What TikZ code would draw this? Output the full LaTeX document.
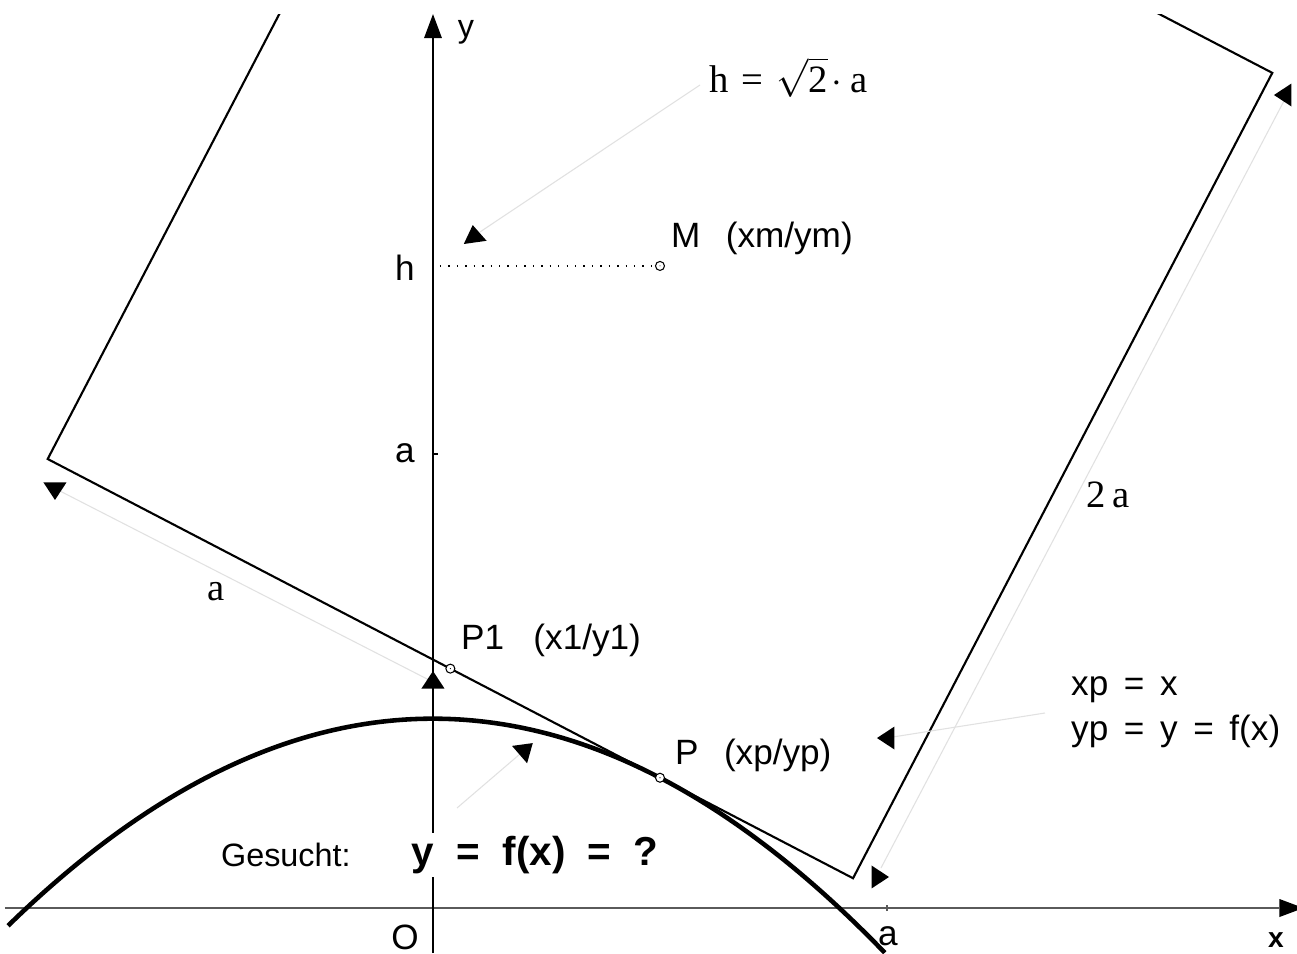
\documentclass[tikz,border=0pt]{standalone}
\usepackage{fontspec}
\setmainfont{Liberation Sans}
\newfontfamily\serifa{Liberation Serif}
\usetikzlibrary{calc}
\definecolor{leader}{RGB}{225,225,225}
\definecolor{axisline}{RGB}{90,90,90}

\begin{document}
\begin{tikzpicture}[x=4.54cm, y=4.54cm,
  every node/.style={font=\fontsize{9.2}{12.8}\selectfont, inner sep=1pt},
  sq/.style={line width=0.6pt, line join=miter},
  curve/.style={line width=1.3pt},
  ax/.style={draw=axisline, line width=0.45pt},
  lead/.style={draw=leader, line width=0.3pt},
  pt/.style={circle, draw, fill=white, line width=0.3pt, minimum size=0.9mm, inner sep=0pt},
  lbl/.style={anchor=west, font=\fontsize{10}{12.8}\selectfont},
  ser/.style={font=\serifa\fontsize{11}{13}\selectfont},
  pics/axtip/.style={code={\fill (-0.9mm,0) -- (0.9mm,0) -- (0,2.4mm) -- cycle;}},
  pics/dimtip/.style={code={\fill (-1.15mm,-0.85mm) -- (1.15mm,-0.85mm) -- (0,0.9mm) -- cycle;}}
]
\useasboundingbox[fill=white] (-0.9537,-0.0991) rectangle (1.9031,2.0);

\coordinate (M) at (0.5,{sqrt(2)});
\begin{scope}[shift={(M)}, rotate=-27.5]
  \coordinate (A) at (-1,-1);
  \coordinate (B) at (1,-1);
  \coordinate (C) at (1,1);
  \coordinate (D) at (-1,1);
  \coordinate (P1) at (0,-1);
\end{scope}
\coordinate (P) at (0.5,0.2869);

% axes
\coordinate (xstart) at (-0.943,0);
\coordinate (xend) at (1.8645,0);
\coordinate (ystart) at (0,-0.0991);
\coordinate (yend) at (0,1.916);
\draw[ax] (xstart) -- (xend);
\draw (ystart) -- (yend);
\path (xend) pic[rotate=-90] {axtip};
\path (yend) pic {axtip};
\draw[ax] (1,-0.007) -- (1,0.007);
\draw (0,1) -- (0.012,1);

% square
\begin{scope}
  \clip (-1,-0.2) rectangle (2,1.967);
  \draw[sq] (D) -- (A) -- (B) -- (C) -- cycle;
\end{scope}

% curve
\draw[curve] plot[domain=-0.936:0.9957, samples=80, smooth] (\x,{0.417-0.5206*\x*\x});

% dimensions
\coordinate (dimA1) at (-0.826,0.9207);
\coordinate (dimA2) at (0,0.4978);
\draw[lead] (dimA1) -- (dimA2);
\path (-0.8326,0.9185) pic[rotate=180] {dimtip};
\path (0,0.5022) pic {dimtip};
\coordinate (dimB1) at (1.8744,1.7775);
\coordinate (dimB2) at (0.9868,0.0881);
\draw[lead] (dimB1) -- (dimB2);
\path (1.8722,1.7907) pic[rotate=90] {dimtip};
\path (0.9846,0.0683) pic[rotate=-90] {dimtip};

% leaders
\coordinate (hfrom) at (0.5881,1.8128);
\coordinate (hto) at (0.1035,1.4890);
\draw[lead] (hfrom) -- (hto);
\path (0.0903,1.4846) pic[rotate=8] {dimtip};
\coordinate (xpfrom) at (1.348,0.4295);
\coordinate (xpto) at (1.0132,0.3767);
\draw[lead] (xpfrom) -- (xpto);
\path (0.9978,0.3744) pic[rotate=90] {dimtip};
\coordinate (cfrom) at (0.0529,0.2203);
\coordinate (cto) at (0.1916,0.3392);
\draw[lead] (cfrom) -- (cto);
\path (0.2048,0.3502) pic[rotate=-49] {dimtip};

% points
\draw[dotted, line width=0.4pt] (0.0154,{sqrt(2)}) -- (M);
\node[pt] (m) at (M) {};
\node[pt] (p1) at (P1) {};
\node[pt] (p) at (P) {};
\foreach \q in {M,P1,P} \fill (\q) circle (0.15pt);

% labels
\node (ylab) at (0.0727,1.9295) {y};
\node[font=\bfseries\fontsize{8}{10}\selectfont] (xlab) at (1.8568,-0.0705) {x};
\node[font=\fontsize{10}{12}\selectfont] (olab) at (-0.0617,-0.0650) {O};
\node[font=\fontsize{10}{12}\selectfont] (alab) at (1.0022,-0.0620) {a};
\node[font=\fontsize{10}{12}\selectfont] (hlab) at (-0.0617,1.4097) {h};
\node[font=\fontsize{10}{12}\selectfont] (aylab) at (-0.0617,1.0022) {a};
\node[lbl] (mlab) at (0.5154,1.4758) {M\ \ \,(xm/ym)};
\node[lbl] (p1lab) at (0.0529,0.5903) {P1\ \ \ (x1/y1)};
\node[lbl] (plab) at (0.5242,0.3370) {P\ \ \,(xp/yp)};
\node[lbl, align=left] (xplab) at (1.3965,0.4306) {xp\ \,=\ \,x\\yp\ \,=\ \,y\ \,=\ \,f(x)};
\node[lbl, font=\fontsize{9.2}{12}\selectfont] (gesucht) at (-0.4758,0.1167) {Gesucht:};
\node[lbl, fill=white, font=\bfseries\fontsize{11.5}{13}\selectfont] (fx) at (-0.0563,0.1167) {y\ \ =\ \ f(x)\ \ =\ \ ?};
\node[lbl, ser] (heq) at (0.6000,1.8304) {h\hspace{1.3mm}=\hspace{1.3mm}$\sqrt{\hbox{\serifa 2}}$\hspace{0.3mm}$\cdot$\hspace{0.9mm}a};
\node[ser] (twoa) at (1.4868,0.9097) {2\,a};
\node[ser] (adim) at (-0.478,0.696) {a};
\end{tikzpicture}
\end{document}
